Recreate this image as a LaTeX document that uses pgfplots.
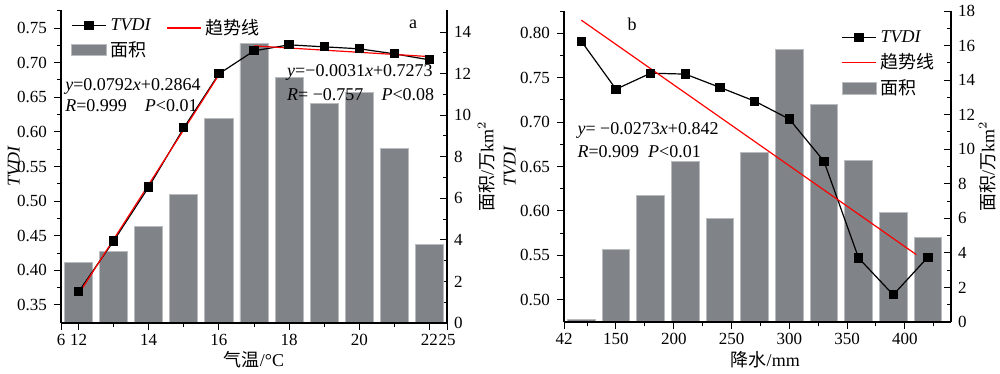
\documentclass[border=0pt]{standalone}
\usepackage{fontspec}
\setmainfont{Liberation Serif}
\newfontfamily\cjk{Noto Sans CJK SC}
\usepackage{pgfplots}
\pgfplotsset{compat=1.18}
\definecolor{barc}{RGB}{128,131,135}
\definecolor{bare}{RGB}{185,188,190}
\pgfplotsset{
  every axis/.append style={font=\fontsize{8.5}{10}\selectfont,
    /pgf/number format/assume math mode=true, scale only axis,
    axis line style={-, line width=0.6pt}, major tick length=3.5pt, minor tick length=2pt,
    tick style={line width=0.5pt, black}},
}
\begin{document}
\begin{tikzpicture}
\useasboundingbox (0,0) rectangle (500pt,-187pt);
% ---------------- panel a: bars ----------------
\begin{axis}[at={(30.5pt,-161.5pt)}, anchor=south west, width=193pt, height=156.5pt,
  xmin=11.5, xmax=22.5, ymin=0, ymax=15.06,
  axis y line*=right, axis x line=none, tick align=inside,
  ytick={0,2,...,14}, minor ytick={1,3,...,13},
  ylabel={{\cjk 面积}/{\cjk 万}km$^2$},
  ylabel style={font=\fontsize{9}{10}\selectfont, at={(rel axis cs:1.102,0.5)}, anchor=center, rotate=0}]
\addplot[ybar, bar width=0.8, fill=barc, draw=bare, line width=0.4pt] coordinates {
 (12,2.93) (13,3.46) (14,4.66) (15,6.2) (16,9.86) (17,13.46) (18,11.83) (19,10.58) (20,11.1) (21,8.41) (22,3.8)};
\end{axis}
% ---------------- panel a: TVDI ----------------
\begin{axis}[at={(30.5pt,-161.5pt)}, anchor=south west, width=193pt, height=156.5pt,
  xmin=11.5, xmax=22.5, ymin=0.324, ymax=0.776,
  axis y line*=left, axis x line*=bottom, tick align=outside,
  xtick={11.5,12,14,16,18,20,22,22.5}, xticklabels={6,12,14,16,18,20,22,25},
  minor xtick={13,15,17,19,21},
  xticklabel style={yshift=1.5pt},
  ytick={0.35,0.40,...,0.76}, minor ytick={0.375,0.425,...,0.77},
  yticklabel style={/pgf/number format/.cd, fixed, fixed zerofill, precision=2},
  xlabel={{\cjk 气温}/°C}, ylabel={\textit{TVDI}},
  xlabel style={font=\fontsize{9}{10}\selectfont, at={(rel axis cs:0.5,-0.118)}, anchor=center},
  ylabel style={font=\fontsize{9}{10}\selectfont, at={(rel axis cs:-0.122,0.5)}, anchor=center},
  legend style={at={(rel axis cs:0.01,1.0)}, anchor=north west, draw=none, fill=none,
    font=\fontsize{9}{10}\selectfont},
  legend cell align=left]
\addplot[black, line width=0.6pt, mark=square*, mark size=2pt, forget plot] coordinates {
 (12,0.369) (13,0.4425) (14,0.5205) (15,0.6058) (16,0.6838) (17,0.717) (18,0.7257) (19,0.7228) (20,0.72) (21,0.7127) (22,0.704)};
\addplot[red, line width=0.6pt, forget plot] coordinates {(12,0.3656) (16,0.6824)};
\addplot[red, line width=0.6pt, forget plot] coordinates {(17,0.7242) (22,0.7087)};
\addlegendimage{black, line width=0.6pt, mark=square*, mark size=2pt}
\addlegendentry{\textit{TVDI}}
\addlegendimage{area legend, fill=barc, draw=bare}
\addlegendentry{{\cjk 面积}}
\node[anchor=west, inner sep=0] at (rel axis cs:0.01,0.757) {\fontsize{9}{10}\selectfont\textit{y}=0.0792\textit{x}+0.2864};
\node[anchor=west, inner sep=0] at (rel axis cs:0.01,0.693) {\fontsize{9}{10}\selectfont\textit{R}=0.999\quad\textit{P}<0.01};
\node[anchor=west, inner sep=0] at (rel axis cs:0.585,0.799) {\fontsize{9}{10}\selectfont\textit{y}=−0.0031\textit{x}+0.7273};
\node[anchor=west, inner sep=0] at (rel axis cs:0.585,0.728) {\fontsize{9}{10}\selectfont\textit{R}= −0.757\quad\textit{P}<0.08};
\node at (rel axis cs:0.912,0.955) {\fontsize{9}{10}\selectfont a};
\end{axis}
% ---------------- panel a: second legend column ----------------
\begin{axis}[at={(30.5pt,-161.5pt)}, anchor=south west, width=193pt, height=156.5pt,
  hide axis, xmin=0, xmax=1, ymin=0, ymax=1,
  legend style={at={(rel axis cs:0.256,0.998)}, anchor=north west, draw=none, fill=none,
    font=\fontsize{9}{10}\selectfont},
  legend cell align=left]
\addlegendimage{red, line width=0.8pt}
\addlegendentry{{\cjk 趋势线}}
\end{axis}
% ---------------- panel b: bars ----------------
\begin{axis}[at={(282pt,-161pt)}, anchor=south west, width=193.5pt, height=155.5pt,
  xmin=105, xmax=440, ymin=0, ymax=18,
  axis y line*=right, axis x line=none, tick align=inside,
  ytick={0,2,...,18}, minor ytick={1,3,...,17},
  ylabel={{\cjk 面积}/{\cjk 万}km$^2$},
  ylabel style={font=\fontsize{9}{10}\selectfont, at={(rel axis cs:1.094,0.5)}, anchor=center, rotate=0}]
\addplot[ybar, bar width=24, fill=barc, draw=bare, line width=0.4pt] coordinates {
 (120,0.17) (150,4.2) (180,7.33) (210,9.29) (240,6.0) (270,9.8) (300,15.75) (330,12.58) (360,9.35) (390,6.35) (420,4.9)};
\end{axis}
% ---------------- panel b: TVDI ----------------
\begin{axis}[at={(282pt,-161pt)}, anchor=south west, width=193.5pt, height=155.5pt,
  xmin=105, xmax=440, ymin=0.475, ymax=0.825,
  axis y line*=left, axis x line*=bottom, tick align=outside,
  xtick={105,150,200,...,400}, xticklabels={42,150,200,250,300,350,400},
  minor xtick={125,175,...,425},
  xticklabel style={yshift=1.5pt},
  ytick={0.50,0.55,...,0.81}, minor ytick={0.525,0.575,...,0.82},
  yticklabel style={/pgf/number format/.cd, fixed, fixed zerofill, precision=2},
  xlabel={{\cjk 降水}/mm}, ylabel={\textit{TVDI}},
  xlabel style={font=\fontsize{9}{10}\selectfont, at={(rel axis cs:0.52,-0.12)}, anchor=center},
  ylabel style={font=\fontsize{9}{10}\selectfont, at={(rel axis cs:-0.14,0.5)}, anchor=center},
  legend style={at={(rel axis cs:0.70,0.965)}, anchor=north west, draw=none, fill=none,
    font=\fontsize{9}{10}\selectfont},
  legend cell align=left]
\addplot[black, line width=0.6pt, mark=square*, mark size=2pt, forget plot] coordinates {
 (120,0.791) (150,0.737) (180,0.755) (210,0.754) (240,0.739) (270,0.7236) (300,0.7034) (330,0.656) (360,0.547) (390,0.5056) (420,0.548)};
\addplot[red, line width=0.6pt, forget plot] coordinates {(120,0.8147) (410,0.5508)};
\addlegendimage{black, line width=0.6pt, mark=square*, mark size=2pt}
\addlegendentry{\textit{TVDI}}
\addlegendimage{red, line width=0.6pt}
\addlegendentry{{\cjk 趋势线}}
\addlegendimage{area legend, fill=barc, draw=bare}
\addlegendentry{{\cjk 面积}}
\node[anchor=west, inner sep=0] at (rel axis cs:0.034,0.617) {\fontsize{9}{10}\selectfont\textit{y}= −0.0273\textit{x}+0.842};
\node[anchor=west, inner sep=0] at (rel axis cs:0.034,0.547) {\fontsize{9}{10}\selectfont\textit{R}=0.909\enspace\textit{P}<0.01};
\node at (rel axis cs:0.176,0.958) {\fontsize{9}{10}\selectfont b};
\end{axis}
\end{tikzpicture}
\end{document}
